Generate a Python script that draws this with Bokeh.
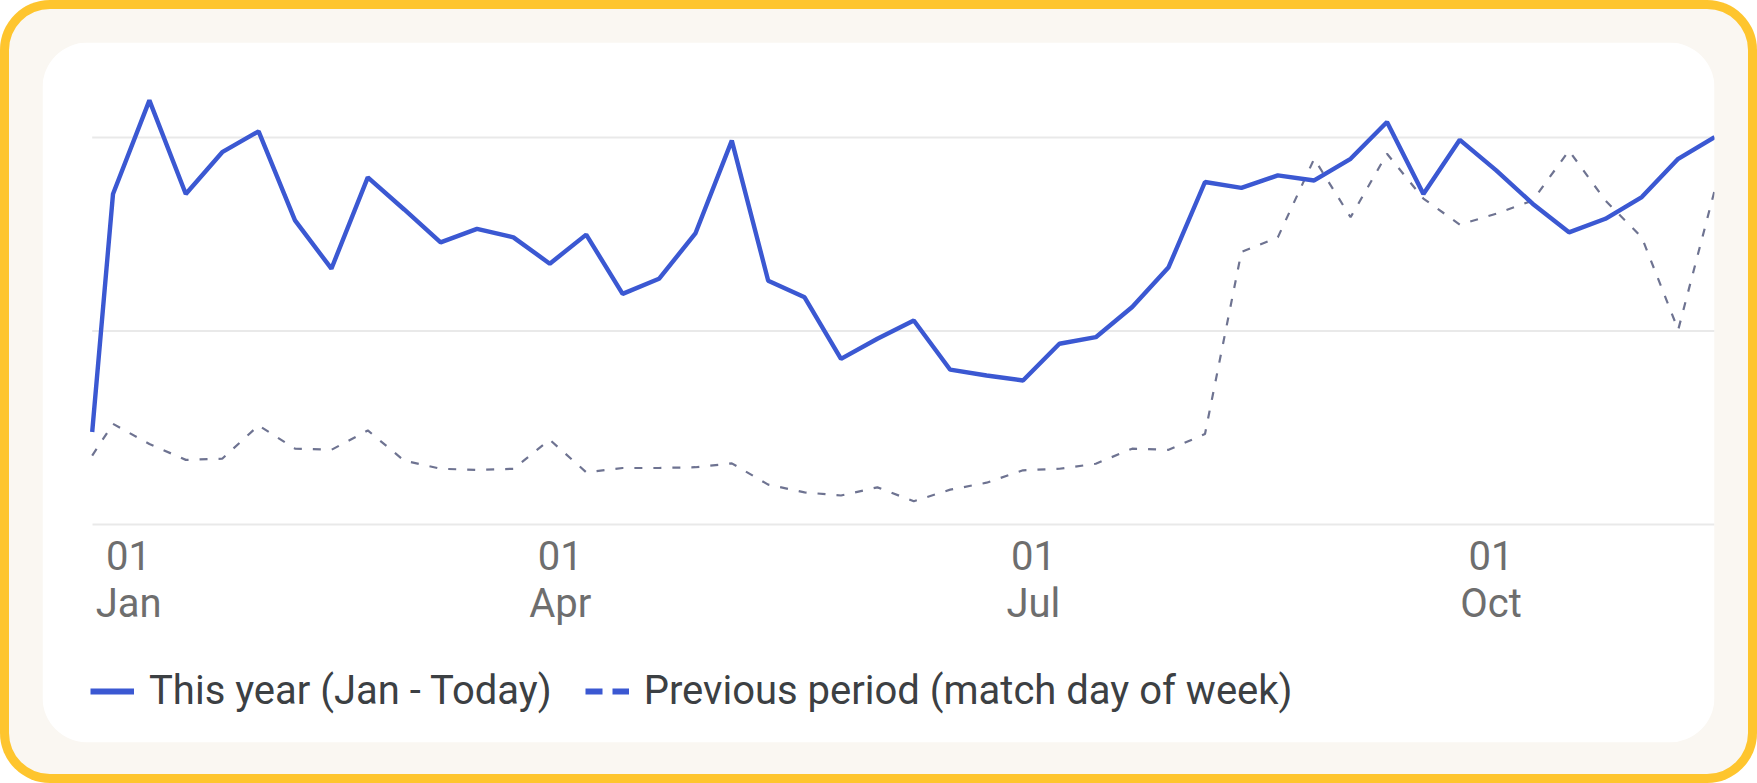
from bokeh.plotting import figure
from bokeh.models import (Range1d, FixedTicker, BoxAnnotation, Legend, LegendItem,
                          ColumnDataSource, LinearAxis)
from bokeh.embed import file_html
from bokeh.resources import INLINE

# ---------------- data ----------------
# day of year (0 = 01 Jan); first point is 01 Jan, then weekly points
day_of_year = [0] + list(range(4, 313, 7))

this_year = [23.9, 85.4, 109.6, 85.4, 96.2, 101.6, 78.6, 66.1, 89.7, 81.4,
             72.9, 76.4, 74.2, 67.4, 74.9, 59.6, 63.5, 75.2, 99.2, 63.0,
             58.7, 42.8, 48.0, 52.7, 40.0, 38.5, 37.2, 46.7, 48.4, 56.2,
             66.5, 88.5, 87.0, 90.2, 88.9, 94.5, 104.0, 85.4, 99.4, 91.5,
             82.9, 75.5, 79.0, 84.6, 94.5, 100.1]

previous_period = [17.8, 26.0, 20.8, 16.7, 17.0, 25.6, 19.6, 19.3, 24.3, 16.5,
                   14.4, 14.1, 14.4, 21.9, 13.5, 14.6, 14.6, 14.8, 15.8, 10.3,
                   8.3, 7.5, 9.6, 6.0, 9.0, 10.8, 14.0, 14.4, 15.7, 19.6,
                   19.3, 23.4, 70.4, 74.2, 94.5, 79.4, 95.8, 84.2, 77.5, 80.3,
                   83.7, 96.6, 83.7, 74.2, 50.3, 86.3]

tick_days = [7, 90, 181, 269]
tick_day_labels = ["01", "01", "01", "01"]
tick_month_labels = ["Jan", "Apr", "Jul", "Oct"]
grid_values = [50, 100]

series_names = ["This year (Jan - Today)", "Previous period (match day of week)"]

# ---------------- layout constants ----------------
W, H = 1757, 783
ML, MR, MT, MB = 42, 43, 42, 41          # frame == white card
FW, FH = W - ML - MR, H - MT - MB
DAY_PX = 5.2                              # pixels per day
UNIT_PX = 3.87                            # pixels per value unit
X_START = -49.7 / DAY_PX
X_END = X_START + FW / DAY_PX
Y_END = 482 / UNIT_PX
Y_START = Y_END - FH / UNIT_PX

BLUE = "#3b58d2"
GREY_DASH = "#6e7391"
YELLOW = "#fec52e"
BEIGE = "#faf7f2"
GRID = "#e9e9e9"
TICK_TEXT = "#6e6e6e"

p = figure(width=W, height=H, output_backend="svg", toolbar_location=None, title=None,
           x_range=Range1d(X_START, X_END), y_range=Range1d(Y_START, Y_END),
           min_border_left=ML, min_border_right=MR, min_border_top=MT, min_border_bottom=MB,
           background_fill_color=BEIGE, border_fill_color=BEIGE, border_fill_alpha=0,
           outline_line_color=None,
           styles={"background-color": BEIGE, "border-radius": "50px",
                   "box-shadow": "inset 0 0 0 9px " + YELLOW})

# white card (the frame area, with rounded corners)
p.add_layout(BoxAnnotation(left=X_START, right=X_END, top=Y_END, bottom=Y_START,
                           fill_color="white", fill_alpha=1, line_color=None,
                           border_radius=45, level="image"))

# horizontal grid lines spanning the data
p.segment(x0=[day_of_year[0]] * len(grid_values), x1=[day_of_year[-1]] * len(grid_values),
          y0=grid_values, y1=grid_values, line_color=GRID, line_width=2)

src = ColumnDataSource(dict(day=day_of_year, this_year=this_year, previous=previous_period))

p.line("day", "previous", source=src, line_color=GREY_DASH, line_width=2.2, line_dash="8 11")
p.line("day", "this_year", source=src, line_color=BLUE, line_width=4.4)

# legend proxies (no visible data, only used for the legend swatches)
nan = float("nan")
leg_solid = p.line(x=[day_of_year[0]], y=[nan], line_color=BLUE, line_width=6)
leg_dash = p.line(x=[day_of_year[0]], y=[nan], line_color=BLUE, line_width=6,
                  line_dash="17 10")

legend = Legend(items=[LegendItem(label=series_names[0], renderers=[leg_solid]),
                       LegendItem(label=series_names[1], renderers=[leg_dash])],
                orientation="horizontal", location=(48, 28),
                glyph_width=44, glyph_height=40, label_height=40, label_standoff=15,
                spacing=33, padding=0, margin=0,
                label_text_font="Roboto", label_text_font_size="40px",
                label_text_color="#3c4043",
                background_fill_alpha=0, border_line_color=None)
p.add_layout(legend)

# axes
p.yaxis.visible = False
p.xgrid.visible = False
p.ygrid.visible = False


def style_axis(a, labels, standoff, line=True):
    a.fixed_location = 0
    a.bounds = (day_of_year[0], day_of_year[-1])
    a.ticker = FixedTicker(ticks=tick_days)
    a.major_label_overrides = {d: lab for d, lab in zip(tick_days, labels)}
    a.axis_line_color = GRID if line else None
    a.axis_line_width = 2
    a.major_tick_line_color = None
    a.minor_tick_line_color = None
    a.major_tick_out = 0
    a.major_tick_in = 0
    a.major_label_standoff = standoff
    a.major_label_text_font = "Roboto"
    a.major_label_text_font_size = "40px"
    a.major_label_text_color = TICK_TEXT


style_axis(p.xaxis[0], tick_day_labels, 16, line=True)
month_axis = LinearAxis()
style_axis(month_axis, tick_month_labels, 55, line=False)
p.add_layout(month_axis, "below")

open("out.html", "w").write(file_html(p, INLINE))
